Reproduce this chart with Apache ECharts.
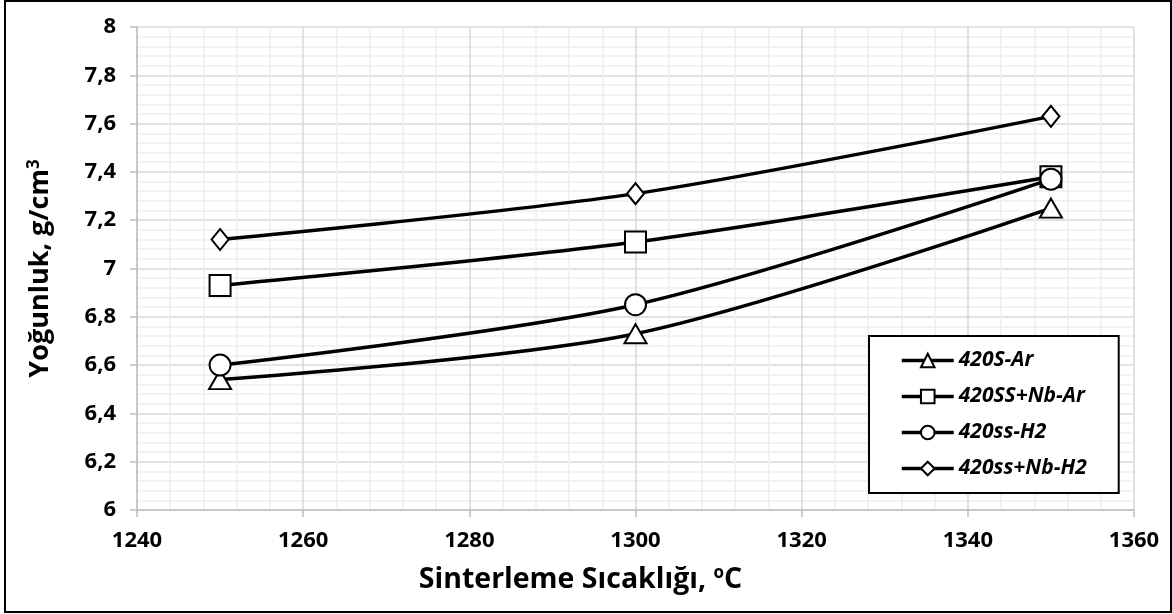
<!DOCTYPE html>
<html><head><meta charset="utf-8">
<script src="https://cdn.jsdelivr.net/npm/echarts@6/dist/echarts.min.js"></script>
<style>html,body{margin:0;padding:0;background:#fff}#c{width:1168px;height:613px;margin-left:4px;box-sizing:border-box;border:2px solid #000}</style>
</head><body><div id="c"></div>
<script>
const temps = [1250, 1300, 1350];
const seriesNames = ['420S-Ar', '420SS+Nb-Ar', '420ss-H2', '420ss+Nb-H2'];
const s420SAr = [6.54, 6.73, 7.25];
const s420SSNbAr = [6.93, 7.11, 7.38];
const s420ssH2 = [6.60, 6.85, 7.37];
const s420ssNbH2 = [7.12, 7.31, 7.63];
const symbols = ['triangle', 'rect', 'circle', 'diamond'];
const symbolSizes = [[22, 19], 21, 21, [17, 21]];
const allValues = [s420SAr, s420SSNbAr, s420ssH2, s420ssNbH2];

const font = '"Open Sans", "Noto Sans", sans-serif';
const chart = echarts.init(document.getElementById('c'), null, {renderer: 'canvas'});
chart.setOption({
  animation: false,
  backgroundColor: '#fff',
  grid: {left: 131, right: 36, top: 25, bottom: 101},
  legend: {
    orient: 'vertical', left: 863, top: 334,
    padding: [14, 32, 14, 31],
    borderColor: '#000', borderWidth: 2, backgroundColor: '#fff',
    itemWidth: 52, itemHeight: 17, itemGap: 15,
    data: seriesNames,
    lineStyle: {color: '#000', width: 3.5},
    textStyle: {fontFamily: font, fontSize: 21, fontWeight: 'bold', fontStyle: 'italic', color: '#000'}
  },
  xAxis: {
    type: 'value', min: 1240, max: 1360, interval: 20,
    name: 'Sinterleme Sıcaklığı, {sup|o}C', nameLocation: 'middle', nameGap: 55,
    nameTextStyle: {fontFamily: font, fontSize: 28.5, fontWeight: 'bold', color: '#000',
      padding: [0, 110, 0, 0],
      rich: {sup: {fontSize: 17, fontWeight: 'bold', verticalAlign: 'top', padding: [0, 0, 12, 0], fontFamily: font}}},
    axisLine: {show: true, lineStyle: {color: '#bfbfbf', width: 1.5}},
    axisTick: {show: true, length: 7, lineStyle: {color: '#bfbfbf', width: 1.5}},
    axisLabel: {fontFamily: font, fontSize: 22, fontWeight: 'bold', color: '#000', margin: 20,
      formatter: v => String(v)},
    splitLine: {show: true, lineStyle: {color: '#d9d9d9', width: 1.5}},
    minorTick: {show: false, splitNumber: 5},
    minorSplitLine: {show: true, lineStyle: {color: '#eeeeee', width: 1.5}}
  },
  yAxis: {
    type: 'value', min: 6, max: 8, interval: 0.2,
    name: 'Yoğunluk, g/cm{sup|3}', nameLocation: 'middle', nameGap: 82,
    nameTextStyle: {fontFamily: font, fontSize: 27, fontWeight: 'bold', color: '#000',
      rich: {sup: {fontSize: 17, fontWeight: 'bold', verticalAlign: 'top', padding: [0, 0, 12, 0], fontFamily: font}}},
    axisLine: {show: true, lineStyle: {color: '#bfbfbf', width: 1.5}},
    axisTick: {show: true, length: 7, lineStyle: {color: '#bfbfbf', width: 1.5}},
    axisLabel: {fontFamily: font, fontSize: 22, fontWeight: 'bold', color: '#000', margin: 21,
      formatter: v => (Math.round(v * 10) / 10).toString().replace('.', ',')},
    splitLine: {show: true, lineStyle: {color: '#d9d9d9', width: 1.5}},
    minorTick: {show: false, splitNumber: 5},
    minorSplitLine: {show: true, lineStyle: {color: '#eeeeee', width: 1.5}}
  },
  series: seriesNames.map((n, i) => ({
    name: n, type: 'line', smooth: 0.3,
    data: temps.map((t, j) => [t, allValues[i][j]]),
    symbol: symbols[i], symbolSize: symbolSizes[i],
    showAllSymbol: true,
    lineStyle: {color: '#000', width: 3.5},
    itemStyle: {color: '#fff', borderColor: '#000', borderWidth: 2},
    z: 2 + i
  }))
});
</script></body></html>
